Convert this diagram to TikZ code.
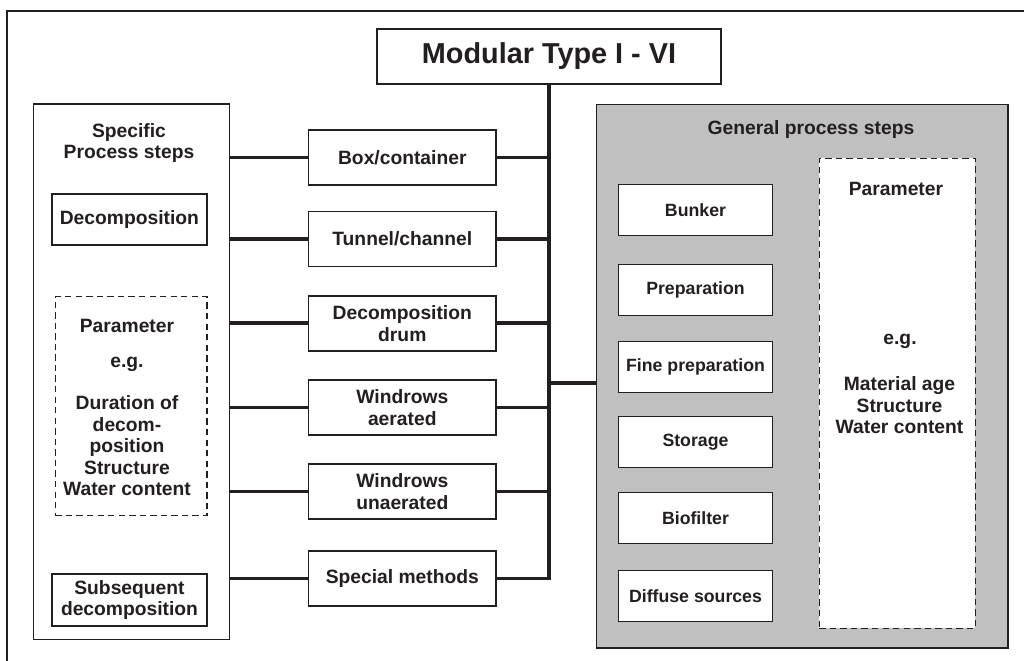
\documentclass[tikz,border=0pt]{standalone}
\usepackage{fontspec}
\setmainfont{Liberation Sans}
\definecolor{ink}{HTML}{231F20}
\definecolor{silver}{RGB}{192,192,192}

\begin{document}
\begin{tikzpicture}[x=0.025cm,y=-0.025cm,
    every node/.style={text=ink,align=center,inner sep=0pt,
      font=\fontsize{13.7}{15.3}\selectfont\bfseries},
    box/.style={draw=ink,line width=0.9pt,fill=white},
    midbox/.style={box,minimum width=4.69cm,minimum height=1.375cm},
    smallbox/.style={box,minimum width=3.86cm,minimum height=1.275cm,
      font=\fontsize{12.6}{15}\selectfont\bfseries},
    parbox/.style={draw=ink,line width=1pt,dash pattern=on 4.5pt off 3pt,fill=white},
    link/.style={draw=ink,line width=2.8pt}]
  \useasboundingbox (0,0) rectangle (1024,661);
  % frame
  \draw[ink,line width=0.8pt] (7,661) -- (7,11) -- (1024,11);

  \path
    (549,56.5) node[box,minimum width=8.6cm,minimum height=1.375cm,
      font=\fontsize{20.5}{24}\selectfont\bfseries] (title){Modular Type I - VI}
    (131.6,371.6) node[box,minimum width=4.9cm,minimum height=13.375cm] (spec){}
    (129,143) node (specT){Specific\\Process steps}
    (129.4,219.5) node[box,minimum width=3.875cm,minimum height=1.275cm] (dec){Decomposition}
    (131.2,406.2) node[parbox,minimum width=3.79cm,minimum height=5.475cm] (par){}
    (127,407.4) node (parT){Parameter\\[9.8pt]e.g.\\[14.6pt]Duration of\\decom-\\position\\Structure\\Water content}
    (129.5,600) node[box,minimum width=3.875cm,minimum height=1.3cm] (sub){Subsequent\\decomposition};

  \path
    (402.3,157.5) node[midbox] (m1){Box/container}
    (402.3,239) node[midbox] (m2){Tunnel/channel}
    (402.3,323.4) node[midbox] (m3){Decomposition\\drum}
    (402.3,407.5) node[midbox] (m4){Windrows\\aerated}
    (402.3,491.5) node[midbox] (m5){Windrows\\unaerated}
    (402.3,578.5) node[midbox] (m6){Special methods};

  \path
    (802.4,376.2) node[box,fill=silver,minimum width=10.28cm,minimum height=13.59cm] (gen){}
    (811,130) node (genT){General process steps}
    (897.3,393.3) node[parbox,minimum width=3.9cm,minimum height=11.75cm] (gpar){}
    (896,189.3) node (gparA){Parameter}
    (900,341) node (gparB){e.g.}
    (899.5,405.5) node (gparC){Material age\\Structure\\Water content}
    (695.5,210.3) node[smallbox] (g1){Bunker}
    (695.5,289.7) node[smallbox] (g2){Preparation}
    (695.5,367) node[smallbox] (g3){Fine preparation}
    (695.5,442) node[smallbox] (g4){Storage}
    (695.5,518) node[smallbox] (g5){Biofilter}
    (695.5,596.2) node[smallbox] (g6){Diffuse sources};

  \coordinate (end) at (549,578.5);
  \coordinate (fork) at (549,383);
  \begin{scope}[link]
    \draw (title.south) -- (end) -- (m6.east);
    \draw (fork) -- (fork -| gen.west);
    \draw (m1.east) -- (m1.east -| title.south);
    \draw (m2.east) -- (m2.east -| title.south);
    \draw (m3.east) -- (m3.east -| title.south);
    \draw (m4.east) -- (m4.east -| title.south);
    \draw (m5.east) -- (m5.east -| title.south);
    \draw (spec.east |- m1.west) -- (m1.west);
    \draw (spec.east |- m2.west) -- (m2.west);
    \draw (spec.east |- m3.west) -- (m3.west);
    \draw (spec.east |- m4.west) -- (m4.west);
    \draw (spec.east |- m5.west) -- (m5.west);
    \draw (spec.east |- m6.west) -- (m6.west);
  \end{scope}
\end{tikzpicture}
\end{document}
